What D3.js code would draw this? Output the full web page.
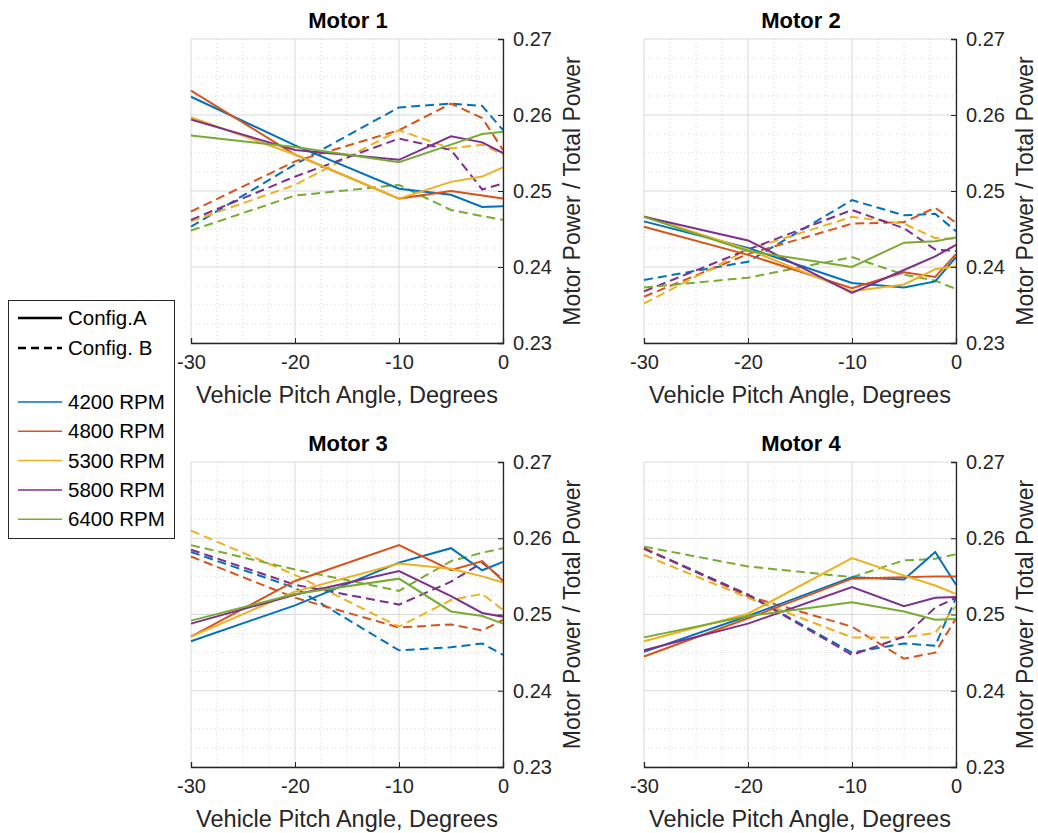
<!DOCTYPE html>
<html><head><meta charset="utf-8">
<script src="https://cdn.jsdelivr.net/npm/d3@7"></script>
<style>body{margin:0;background:#fff;} svg{display:block;font-family:"Liberation Sans",Arial,sans-serif;}</style>
</head><body>
<svg id="c" width="1038" height="833"></svg>
<script>
const pitch = [-30, -20, -10, -5, -2, 0];
const rpmLabels = ["4200 RPM", "4800 RPM", "5300 RPM", "5800 RPM", "6400 RPM"];
const colors = ["#0072BD", "#D95319", "#EDB120", "#7E2F8E", "#77AC30"];
const xTicks = [-30, -20, -10, 0];
const yTicks = [0.23, 0.24, 0.25, 0.26, 0.27];
const titles = ["Motor 1", "Motor 2", "Motor 3", "Motor 4"];

const motor1A = [
  [0.2624, 0.2560, 0.2503, 0.2495, 0.2479, 0.2480],
  [0.2632, 0.2548, 0.2490, 0.2500, 0.2494, 0.2490],
  [0.2597, 0.2548, 0.2490, 0.2512, 0.2519, 0.2531],
  [0.2594, 0.2554, 0.2541, 0.2572, 0.2564, 0.2550],
  [0.2573, 0.2558, 0.2538, 0.2561, 0.2575, 0.2578]
];
const motor1B = [
  [0.2453, 0.2535, 0.2610, 0.2615, 0.2612, 0.2580],
  [0.2473, 0.2539, 0.2580, 0.2615, 0.2596, 0.2554],
  [0.2460, 0.2508, 0.2580, 0.2556, 0.2561, 0.2548],
  [0.2462, 0.2519, 0.2569, 0.2554, 0.2502, 0.2510],
  [0.2448, 0.2494, 0.2508, 0.2475, 0.2467, 0.2462]
];
const motor2A = [
  [0.2460, 0.2425, 0.2379, 0.2373, 0.2381, 0.2413],
  [0.2453, 0.2416, 0.2372, 0.2393, 0.2387, 0.2417],
  [0.2467, 0.2423, 0.2368, 0.2377, 0.2397, 0.2401],
  [0.2466, 0.2435, 0.2366, 0.2396, 0.2414, 0.2429],
  [0.2466, 0.2421, 0.2400, 0.2432, 0.2434, 0.2439]
];
const motor2B = [
  [0.2383, 0.2407, 0.2488, 0.2468, 0.2470, 0.2447],
  [0.2361, 0.2417, 0.2457, 0.2459, 0.2478, 0.2458],
  [0.2352, 0.2423, 0.2466, 0.2457, 0.2438, 0.2437],
  [0.2368, 0.2423, 0.2475, 0.2451, 0.2423, 0.2421],
  [0.2373, 0.2386, 0.2413, 0.2390, 0.2382, 0.2371]
];
const motor3A = [
  [0.2465, 0.2512, 0.2568, 0.2587, 0.2558, 0.2569],
  [0.2471, 0.2544, 0.2591, 0.2558, 0.2570, 0.2544],
  [0.2471, 0.2530, 0.2567, 0.2560, 0.2550, 0.2542],
  [0.2488, 0.2526, 0.2557, 0.2524, 0.2502, 0.2497],
  [0.2492, 0.2527, 0.2547, 0.2504, 0.2498, 0.2488]
];
const motor3B = [
  [0.2582, 0.2535, 0.2453, 0.2457, 0.2462, 0.2447],
  [0.2576, 0.2522, 0.2483, 0.2487, 0.2479, 0.2493],
  [0.2610, 0.2552, 0.2484, 0.2519, 0.2527, 0.2506],
  [0.2585, 0.2539, 0.2513, 0.2543, 0.2568, 0.2546],
  [0.2591, 0.2559, 0.2531, 0.2570, 0.2581, 0.2587]
];
const motor4A = [
  [0.2451, 0.2498, 0.2549, 0.2546, 0.2582, 0.2539],
  [0.2445, 0.2495, 0.2547, 0.2549, 0.2550, 0.2550],
  [0.2465, 0.2501, 0.2574, 0.2551, 0.2538, 0.2527],
  [0.2453, 0.2488, 0.2536, 0.2511, 0.2522, 0.2523],
  [0.2470, 0.2498, 0.2516, 0.2504, 0.2493, 0.2494]
];
const motor4B = [
  [0.2587, 0.2526, 0.2450, 0.2462, 0.2459, 0.2522],
  [0.2587, 0.2524, 0.2484, 0.2442, 0.2450, 0.2495],
  [0.2578, 0.2522, 0.2470, 0.2470, 0.2476, 0.2511],
  [0.2586, 0.2526, 0.2447, 0.2471, 0.2509, 0.2522],
  [0.2589, 0.2563, 0.2549, 0.2571, 0.2573, 0.2579]
];
const panelsA = [motor1A, motor2A, motor3A, motor4A];
const panelsB = [motor1B, motor2B, motor3B, motor4B];

const svg = d3.select("#c");
const layout = [
  {l: 191, r: 503, t: 39, b: 343},
  {l: 644, r: 956, t: 39, b: 343},
  {l: 191, r: 503, t: 462, b: 767},
  {l: 644, r: 956, t: 462, b: 767}
];
const FONT = "Liberation Sans, Arial, sans-serif";

layout.forEach((p, i) => {
  const x = d3.scaleLinear().domain([-30, 0]).range([p.l, p.r]);
  const y = d3.scaleLinear().domain([0.23, 0.27]).range([p.b, p.t]);
  const g = svg.append("g");

  // minor grid
  const xMinor = [-27.5, -25, -22.5, -17.5, -15, -12.5, -7.5, -5, -2.5];
  const yMinor = [0.2325, 0.235, 0.2375, 0.2425, 0.245, 0.2475, 0.2525, 0.255, 0.2575, 0.2625, 0.265, 0.2675];
  g.selectAll(".xm").data(xMinor).enter().append("line")
    .attr("x1", d => x(d)).attr("x2", d => x(d)).attr("y1", p.t).attr("y2", p.b)
    .attr("stroke", "#d4d4d4").attr("stroke-width", 1).attr("stroke-dasharray", "1,3");
  g.selectAll(".ym").data(yMinor).enter().append("line")
    .attr("x1", p.l).attr("x2", p.r).attr("y1", d => y(d)).attr("y2", d => y(d))
    .attr("stroke", "#d4d4d4").attr("stroke-width", 1).attr("stroke-dasharray", "1,3");
  // major grid
  g.selectAll(".xg").data(xTicks).enter().append("line")
    .attr("x1", d => x(d)).attr("x2", d => x(d)).attr("y1", p.t).attr("y2", p.b)
    .attr("stroke", "#d9d9d9").attr("stroke-width", 1);
  g.selectAll(".yg").data(yTicks).enter().append("line")
    .attr("x1", p.l).attr("x2", p.r).attr("y1", d => y(d)).attr("y2", d => y(d))
    .attr("stroke", "#d9d9d9").attr("stroke-width", 1);

  const line = d3.line().x((d, j) => x(pitch[j])).y(d => y(d));
  panelsB[i].forEach((s, k) => {
    g.append("path").datum(s).attr("d", line).attr("fill", "none")
      .attr("stroke", colors[k]).attr("stroke-width", 2).attr("stroke-dasharray", "9,5");
  });
  panelsA[i].forEach((s, k) => {
    g.append("path").datum(s).attr("d", line).attr("fill", "none")
      .attr("stroke", colors[k]).attr("stroke-width", 2);
  });

  // axes
  const xa = g.append("g").attr("transform", `translate(0,${p.b})`)
    .call(d3.axisBottom(x).tickValues(xTicks).tickSize(-5).tickPadding(12).tickFormat(d => String(d)));
  xa.select(".domain").attr("stroke", "#262626").attr("stroke-width", 1.3);
  xa.selectAll(".tick line").attr("stroke", "#262626");
  xa.selectAll("text").attr("font-size", 20).attr("fill", "#262626").attr("font-family", FONT);

  const ya = g.append("g").attr("transform", `translate(${p.r},0)`)
    .call(d3.axisRight(y).tickValues(yTicks).tickSize(-5).tickPadding(10).tickFormat(d3.format(".2f")));
  ya.select(".domain").attr("stroke", "#262626").attr("stroke-width", 1.3);
  ya.selectAll(".tick line").attr("stroke", "#262626");
  ya.selectAll("text").attr("font-size", 20).attr("fill", "#262626").attr("font-family", FONT);

  g.append("text").attr("x", (p.l + p.r) / 2).attr("y", p.b + 60).attr("text-anchor", "middle")
    .attr("font-size", 23.5).attr("fill", "#262626").attr("font-family", FONT).text("Vehicle Pitch Angle, Degrees");
  g.append("text").attr("transform", `translate(${p.r + 77},${(p.t + p.b) / 2}) rotate(-90)`)
    .attr("text-anchor", "middle").attr("font-size", 23).attr("fill", "#262626").attr("font-family", FONT)
    .text("Motor Power / Total Power");
  g.append("text").attr("x", (p.l + p.r) / 2 + 1).attr("y", p.t - 11).attr("text-anchor", "middle")
    .attr("font-size", 22).attr("font-weight", "bold").attr("fill", "#000").attr("font-family", FONT).text(titles[i]);
});

// legend
const lg = svg.append("g");
lg.append("rect").attr("x", 8.5).attr("y", 300.5).attr("width", 166).attr("height", 238)
  .attr("fill", "#fff").attr("stroke", "#262626").attr("stroke-width", 1);
const cfg = [{label: "Config.A", dash: null, y: 318}, {label: "Config. B", dash: "8,5", y: 348}];
cfg.forEach(c => {
  lg.append("line").attr("x1", 18).attr("x2", 62).attr("y1", c.y).attr("y2", c.y)
    .attr("stroke", "#000").attr("stroke-width", 2.5).attr("stroke-dasharray", c.dash);
  lg.append("text").attr("x", 68).attr("y", c.y + 7).attr("font-size", 20.5).attr("fill", "#000")
    .attr("font-family", FONT).text(c.label);
});
rpmLabels.forEach((r, k) => {
  const yy = 402 + k * 29.3;
  lg.append("line").attr("x1", 18).attr("x2", 62).attr("y1", yy).attr("y2", yy)
    .attr("stroke", colors[k]).attr("stroke-width", 1.5);
  lg.append("text").attr("x", 68).attr("y", yy + 7).attr("font-size", 20.5).attr("fill", "#000")
    .attr("font-family", FONT).text(r);
});
</script>
</body></html>
